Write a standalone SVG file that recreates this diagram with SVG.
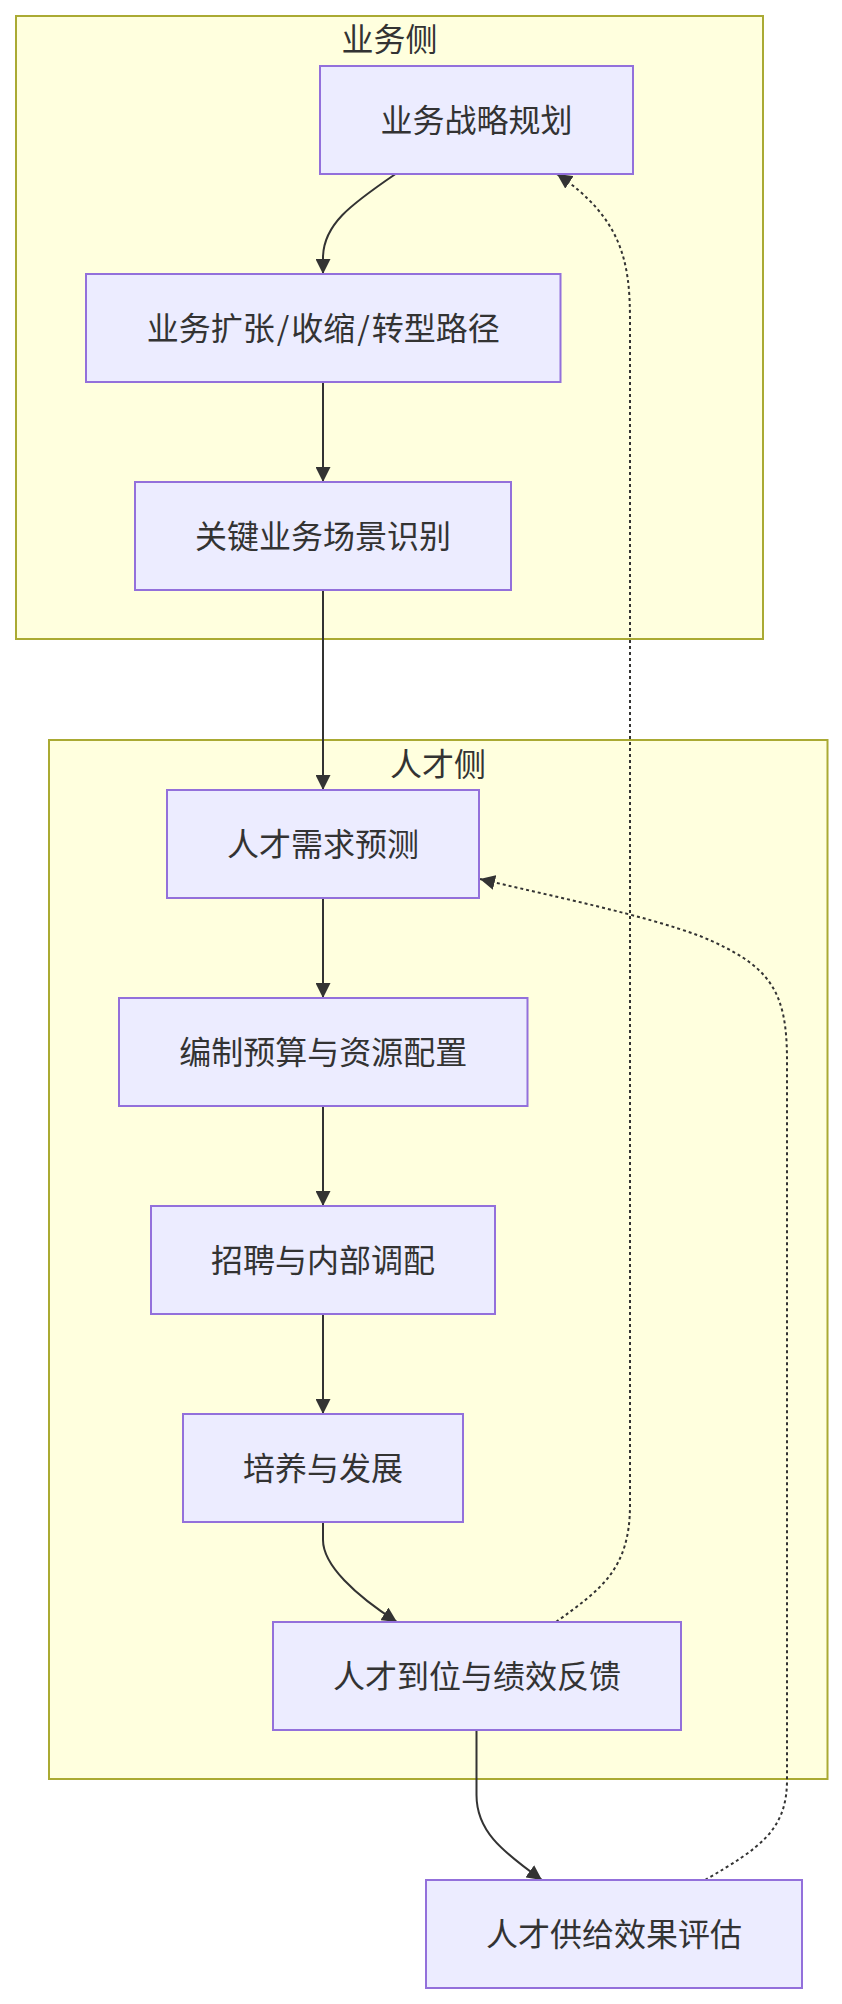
<svg xmlns="http://www.w3.org/2000/svg" width="842" height="2004" viewBox="0 0 842 2004">
<defs>
<marker id="arrow" viewBox="0 0 10 10" refX="10" refY="5" markerWidth="15" markerHeight="15" markerUnits="userSpaceOnUse" orient="auto">
<path d="M0,0 L10,5 L0,10 z" fill="#333333" stroke="none"/>
</marker>
<style>
.cluster{fill:#ffffde;stroke:#aaaa33;stroke-width:2}
.node rect{fill:#ececff;stroke:#9370db;stroke-width:2}
.lbl{font-family:"Noto Sans CJK SC","Liberation Sans",sans-serif;font-size:32px;fill:#333333;text-anchor:middle}
.edge{fill:none;stroke:#333333;stroke-width:2;marker-end:url(#arrow)}
.dotted{stroke-dasharray:3 3}
</style>
</defs>
<rect width="842" height="2004" fill="#ffffff"/>
<g id="cluster-business">
<rect class="cluster" x="16" y="16" width="747" height="623"/>
<text class="lbl" x="389.5" y="51">业务侧</text>
</g>
<g id="cluster-talent">
<rect class="cluster" x="49" y="740" width="778.5" height="1039"/>
<text class="lbl" x="438" y="776">人才侧</text>
</g>
<g id="edges">
<path class="edge" d="M395.5,174 C350,205 323,225 323,258 L323,274"/>
<path class="edge" d="M323,382 L323,482"/>
<path class="edge" d="M323,590 L323,790"/>
<path class="edge" d="M323,898 L323,998"/>
<path class="edge" d="M323,1106 L323,1206"/>
<path class="edge" d="M323,1314 L323,1414"/>
<path class="edge" d="M323,1522 L323,1540 C323,1565 355,1595 397,1622"/>
<path class="edge" d="M476.5,1730 L476.5,1795 C476.5,1830 500,1850 542,1880"/>
<path class="edge dotted" d="M556,1622 C600,1590 630,1570 630,1505 L630,320 C630,262 622,218 557,174"/>
<path class="edge dotted" d="M705,1880 C760,1848 787,1830 787,1780 L787,1060 C787,990 770,965 700,936 C640,914 560,898 480,879"/>
</g>
<g id="n1" class="node">
<rect x="320" y="66" width="313" height="108"/>
<text class="lbl" x="476.5" y="132">业务战略规划</text>
</g>
<g id="n2" class="node">
<rect x="86" y="274" width="474.5" height="108"/>
<text class="lbl" x="323.25" y="340">业务扩张<tspan dx="2">/</tspan><tspan dx="2">收缩</tspan><tspan dx="2">/</tspan><tspan dx="2">转型路径</tspan></text>
</g>
<g id="n3" class="node">
<rect x="135" y="482" width="376" height="108"/>
<text class="lbl" x="323" y="548">关键业务场景识别</text>
</g>
<g id="n4" class="node">
<rect x="167" y="790" width="312" height="108"/>
<text class="lbl" x="323" y="856">人才需求预测</text>
</g>
<g id="n5" class="node">
<rect x="119" y="998" width="408.5" height="108"/>
<text class="lbl" x="323.25" y="1064">编制预算与资源配置</text>
</g>
<g id="n6" class="node">
<rect x="151" y="1206" width="344" height="108"/>
<text class="lbl" x="323" y="1272">招聘与内部调配</text>
</g>
<g id="n7" class="node">
<rect x="183" y="1414" width="280" height="108"/>
<text class="lbl" x="323" y="1480">培养与发展</text>
</g>
<g id="n8" class="node">
<rect x="273" y="1622" width="408" height="108"/>
<text class="lbl" x="477" y="1688">人才到位与绩效反馈</text>
</g>
<g id="n9" class="node">
<rect x="426" y="1880" width="376" height="108"/>
<text class="lbl" x="614" y="1946">人才供给效果评估</text>
</g>
</svg>
